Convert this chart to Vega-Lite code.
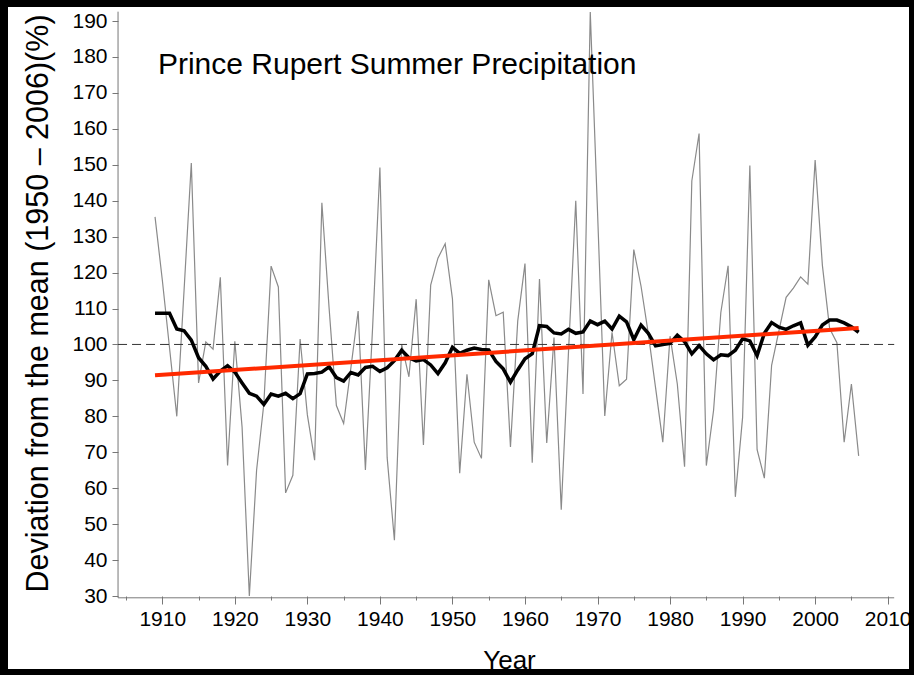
{
  "$schema": "https://vega.github.io/schema/vega-lite/v6.json",
  "width": 901,
  "height": 662,
  "autosize": {"type": "none"},
  "padding": {"left": 8, "top": 7, "right": 5, "bottom": 6},
  "background": "black",
  "config": {"view": {"fill": "white", "stroke": null}, "font": "Liberation Sans"},
  "datasets": {
    "raw": [
      {"year":1909,"value":135.5},{"year":1910,"value":118},{"year":1911,"value":99},{"year":1912,"value":80},
      {"year":1913,"value":115},{"year":1914,"value":150.5},{"year":1915,"value":89.3},{"year":1916,"value":100.7},
      {"year":1917,"value":98.7},{"year":1918,"value":118.7},{"year":1919,"value":66.3},{"year":1920,"value":100.9},
      {"year":1921,"value":77},{"year":1922,"value":30},{"year":1923,"value":65},{"year":1924,"value":83.5},
      {"year":1925,"value":121.8},{"year":1926,"value":116},{"year":1927,"value":58.7},{"year":1928,"value":63.6},
      {"year":1929,"value":101.5},{"year":1930,"value":80.4},{"year":1931,"value":67.8},{"year":1932,"value":139.4},
      {"year":1933,"value":110},{"year":1934,"value":83},{"year":1935,"value":78},{"year":1936,"value":93.5},
      {"year":1937,"value":109.3},{"year":1938,"value":65.1},{"year":1939,"value":105},{"year":1940,"value":149.2},
      {"year":1941,"value":68.5},{"year":1942,"value":45.5},{"year":1943,"value":100},{"year":1944,"value":91},
      {"year":1945,"value":112.6},{"year":1946,"value":72},{"year":1947,"value":116.5},{"year":1948,"value":124},
      {"year":1949,"value":128},{"year":1950,"value":112.7},{"year":1951,"value":64.2},{"year":1952,"value":91.7},
      {"year":1953,"value":72.8},{"year":1954,"value":68.3},{"year":1955,"value":118},{"year":1956,"value":108},
      {"year":1957,"value":109},{"year":1958,"value":71.5},{"year":1959,"value":106.5},{"year":1960,"value":122.5},
      {"year":1961,"value":67.1},{"year":1962,"value":118.2},{"year":1963,"value":72.6},{"year":1964,"value":101.9},
      {"year":1965,"value":54},{"year":1966,"value":98},{"year":1967,"value":140},{"year":1968,"value":86.2},
      {"year":1969,"value":192.5},{"year":1970,"value":137},{"year":1971,"value":80.1},{"year":1972,"value":103.4},
      {"year":1973,"value":88.5},{"year":1974,"value":90.3},{"year":1975,"value":126.4},{"year":1976,"value":116.2},
      {"year":1977,"value":103},{"year":1978,"value":88},{"year":1979,"value":72.8},{"year":1980,"value":102.3},
      {"year":1981,"value":89},{"year":1982,"value":66},{"year":1983,"value":145.5},{"year":1984,"value":158.7},
      {"year":1985,"value":66.3},{"year":1986,"value":81.7},{"year":1987,"value":108.9},{"year":1988,"value":121.9},
      {"year":1989,"value":57.6},{"year":1990,"value":79.7},{"year":1991,"value":149.8},{"year":1992,"value":70.7},
      {"year":1993,"value":62.8},{"year":1994,"value":94.2},{"year":1995,"value":103.7},{"year":1996,"value":113.1},
      {"year":1997,"value":115.7},{"year":1998,"value":118.8},{"year":1999,"value":116.8},{"year":2000,"value":151.3},
      {"year":2001,"value":122},{"year":2002,"value":104.4},{"year":2003,"value":100.5},{"year":2004,"value":72.8},
      {"year":2005,"value":89},{"year":2006,"value":69}
    ],
    "smooth": [
      {"year":1909,"value":108.7},{"year":1910,"value":108.7},{"year":1911,"value":108.7},{"year":1912,"value":104.3},
      {"year":1913,"value":103.8},{"year":1914,"value":101.2},{"year":1915,"value":96.3},{"year":1916,"value":93.9},
      {"year":1917,"value":90.4},{"year":1918,"value":92.6},{"year":1919,"value":94.1},{"year":1920,"value":92.3},
      {"year":1921,"value":89.3},{"year":1922,"value":86.4},{"year":1923,"value":85.6},{"year":1924,"value":83.3},
      {"year":1925,"value":86.2},{"year":1926,"value":85.6},{"year":1927,"value":86.4},{"year":1928,"value":84.9},
      {"year":1929,"value":86.3},{"year":1930,"value":91.8},{"year":1931,"value":91.9},{"year":1932,"value":92.3},
      {"year":1933,"value":93.8},{"year":1934,"value":90.8},{"year":1935,"value":89.8},{"year":1936,"value":92.2},
      {"year":1937,"value":91.5},{"year":1938,"value":93.6},{"year":1939,"value":93.9},{"year":1940,"value":92.5},
      {"year":1941,"value":93.5},{"year":1942,"value":95.5},{"year":1943,"value":98.4},{"year":1944,"value":96.3},
      {"year":1945,"value":95.4},{"year":1946,"value":95.8},{"year":1947,"value":94.3},{"year":1948,"value":91.9},
      {"year":1949,"value":94.9},{"year":1950,"value":99.2},{"year":1951,"value":97.5},{"year":1952,"value":98.4},
      {"year":1953,"value":99},{"year":1954,"value":98.6},{"year":1955,"value":98.5},{"year":1956,"value":95.3},
      {"year":1957,"value":93.2},{"year":1958,"value":89.5},{"year":1959,"value":92.9},{"year":1960,"value":96},
      {"year":1961,"value":97.4},{"year":1962,"value":105.2},{"year":1963,"value":105},{"year":1964,"value":103.2},
      {"year":1965,"value":102.9},{"year":1966,"value":104.2},{"year":1967,"value":103.1},{"year":1968,"value":103.5},
      {"year":1969,"value":106.5},{"year":1970,"value":105.5},{"year":1971,"value":106.5},{"year":1972,"value":104.3},
      {"year":1973,"value":107.9},{"year":1974,"value":106.3},{"year":1975,"value":101.3},{"year":1976,"value":105.4},
      {"year":1977,"value":103.1},{"year":1978,"value":99.6},{"year":1979,"value":100},{"year":1980,"value":100.3},
      {"year":1981,"value":102.6},{"year":1982,"value":100.8},{"year":1983,"value":97.4},{"year":1984,"value":99.7},
      {"year":1985,"value":97.4},{"year":1986,"value":95.7},{"year":1987,"value":97.1},{"year":1988,"value":96.9},
      {"year":1989,"value":98.4},{"year":1990,"value":101.6},{"year":1991,"value":101},{"year":1992,"value":96.9},
      {"year":1993,"value":103.1},{"year":1994,"value":106.1},{"year":1995,"value":104.8},{"year":1996,"value":104.2},
      {"year":1997,"value":105.2},{"year":1998,"value":106},{"year":1999,"value":99.8},{"year":2000,"value":102.1},
      {"year":2001,"value":105.4},{"year":2002,"value":106.8},{"year":2003,"value":106.8},{"year":2004,"value":106},
      {"year":2005,"value":104.9},{"year":2006,"value":103.4}
    ],
    "trend": [{"year":1909,"value":91.4},{"year":2006,"value":104.6}],
    "yaxisline": [{"year":1903.9,"value":29.5,"value2":192.6}],
    "hlines": [
      {"year":1903.9,"year2":2010.9,"value":29.5,"kind":"axis"},
      {"year":1903.9,"year2":2010.9,"value":100,"kind":"mean"}
    ],
    "titles": [{"year":1909.4,"value":177.8,"label":"Prince Rupert Summer Precipitation"}]
  },
  "layer": [
    {
      "data": {"name": "raw"},
      "mark": {"type": "line", "color": "#8a8a8a", "strokeWidth": 1.2},
      "encoding": {
        "x": {"field": "year", "type": "quantitative", "title": "Year",
          "scale": {"domain": [1888.73, 2012.94], "nice": false, "zero": false},
          "axis": {"values": [1905,1910,1915,1920,1925,1930,1935,1940,1945,1950,1955,1960,1965,1970,1975,1980,1985,1990,1995,2000,2005,2010],
            "format": "d", "labelExpr": "datum.value % 10 === 0 ? datum.label : ''",
            "tickSize": {"condition": {"test": "datum.value % 10 === 0", "value": 8}, "value": 4},
            "offset": -73, "domain": false, "grid": false, "tickColor": "#777777", "tickWidth": 1,
            "labelColor": "black", "labelFontSize": 21, "labelPadding": 4, "labelOverlap": false, "labelFlush": false,
            "title": "Year", "titleFontSize": 26, "titleFontWeight": "normal", "titleColor": "black",
            "titleX": 501, "titleY": 64, "titleBaseline": "middle", "titleAlign": "center"}},
        "y": {"field": "value", "type": "quantitative", "title": "Deviation from the mean (1950 – 2006)(%)",
          "scale": {"domain": [9.69, 193.9], "nice": false, "zero": false},
          "axis": {"values": [30,40,50,60,70,80,90,100,110,120,130,140,150,160,170,180,190],
            "format": "d", "offset": -110, "domain": false, "grid": false, "tickSize": 6, "tickColor": "#777777",
            "labelColor": "black", "labelFontSize": 21, "labelPadding": 5,
            "title": "Deviation from the mean (1950 – 2006)(%)", "titleFontSize": 30.5, "titleFontWeight": "normal",
            "titleColor": "black", "titleX": -80, "titleY": 296, "titleAngle": -90, "titleAlign": "center", "titleBaseline": "middle"}}
      }
    },
    {
      "data": {"name": "yaxisline"},
      "mark": {"type": "rule", "color": "#777777", "strokeWidth": 1},
      "encoding": {
        "x": {"field": "year", "type": "quantitative", "title": "Year"},
        "y": {"field": "value", "type": "quantitative", "title": "Deviation from the mean (1950 – 2006)(%)"},
        "y2": {"field": "value2", "title": "Deviation from the mean (1950 – 2006)(%)"}
      }
    },
    {
      "data": {"name": "hlines"},
      "mark": {"type": "rule", "strokeWidth": 1},
      "encoding": {
        "x": {"field": "year", "type": "quantitative", "title": "Year"},
        "x2": {"field": "year2", "title": "Year"},
        "y": {"field": "value", "type": "quantitative", "title": "Deviation from the mean (1950 – 2006)(%)"},
        "color": {"field": "kind", "type": "nominal", "scale": {"domain": ["axis", "mean"], "range": ["#777777", "#333333"]}, "legend": null},
        "strokeDash": {"field": "kind", "type": "nominal", "scale": {"domain": ["axis", "mean"], "range": [[1, 0], [9, 5]]}, "legend": null}
      }
    },
    {
      "data": {"name": "smooth"},
      "mark": {"type": "line", "color": "black", "strokeWidth": 3.5, "strokeJoin": "miter"},
      "encoding": {
        "x": {"field": "year", "type": "quantitative", "title": "Year"},
        "y": {"field": "value", "type": "quantitative", "title": "Deviation from the mean (1950 – 2006)(%)"}
      }
    },
    {
      "data": {"name": "trend"},
      "mark": {"type": "line", "color": "#ff2a00", "strokeWidth": 4},
      "encoding": {
        "x": {"field": "year", "type": "quantitative", "title": "Year"},
        "y": {"field": "value", "type": "quantitative", "title": "Deviation from the mean (1950 – 2006)(%)"}
      }
    },
    {
      "data": {"name": "titles"},
      "mark": {"type": "text", "align": "left", "baseline": "middle", "fontSize": 30, "color": "black"},
      "encoding": {
        "x": {"field": "year", "type": "quantitative", "title": "Year"},
        "y": {"field": "value", "type": "quantitative", "title": "Deviation from the mean (1950 – 2006)(%)"},
        "text": {"field": "label"}
      }
    }
  ]
}
